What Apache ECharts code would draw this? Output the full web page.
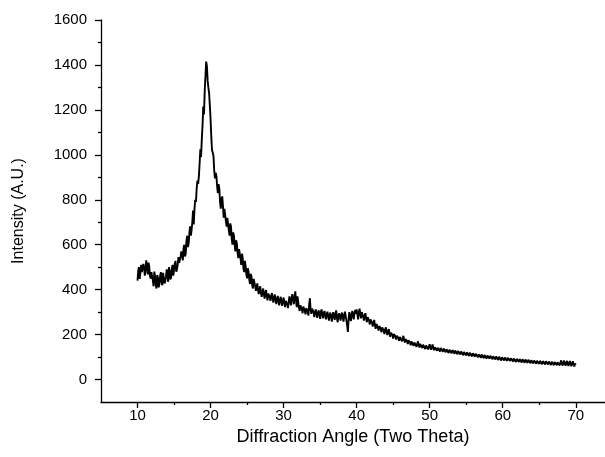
<!DOCTYPE html>
<html>
<head>
<meta charset="utf-8">
<script src="https://cdn.jsdelivr.net/npm/echarts@6/dist/echarts.min.js"></script>
<style>html,body{margin:0;padding:0;background:#fff}#c{width:605px;height:457px}</style>
</head>
<body>
<div id="c"></div>
<script>
// Diffraction angle grid: 10.0 to 70.0 step 0.2 (even samples), plus 10.1 .. 69.9 (odd samples)
const angleStart = 10;
const angleStep = 0.2;
// Intensity at 10.0, 10.2, ... 70.0
const intensity = [
  440, 500, 455, 478, 515, 462, 530, 468, 505, 450,
  472, 415, 460, 405, 452, 425, 478, 420, 470, 438,
  490, 435, 485, 455, 510, 470, 528, 490, 545, 515,
  570, 530, 600, 560, 640, 605, 682, 665, 752, 760,
  790, 885, 905, 1025, 1070, 1215, 1285, 1415, 1330, 1275,
  1160, 1020, 995, 895, 905, 830, 850, 760, 815, 720,
  755, 680, 715, 640, 680, 600, 640, 570, 605, 540,
  575, 510, 540, 478, 505, 450, 480, 425, 458, 405,
  440, 395, 428, 380, 415, 368, 405, 360, 398, 352,
  390, 350, 385, 342, 378, 336, 372, 330, 368, 328,
  365, 322, 358, 318, 370, 330, 380, 335, 392, 322,
  345, 305, 335, 295, 328, 290, 325, 285, 362, 292,
  318, 278, 312, 275, 308, 270, 312, 272, 305, 268,
  302, 262, 298, 258, 300, 265, 308, 255, 295, 262,
  298, 258, 302, 262, 212, 300, 260, 305, 268, 310,
  312, 268, 315, 272, 305, 262, 295, 255, 282, 245,
  272, 236, 265, 226, 255, 218, 246, 210, 238, 202,
  232, 198, 224, 190, 216, 182, 208, 178, 203, 172,
  198, 170, 194, 165, 188, 158, 182, 152, 178, 150,
  172, 146, 170, 142, 165, 140, 163, 136, 160, 134,
  157, 132, 156, 130, 152, 128, 150, 125, 148, 124,
  145, 121, 143, 118, 141, 117, 138, 115, 136, 112,
  135, 111, 133, 108, 131, 107, 128, 105, 126, 103,
  124, 102, 123, 99, 121, 97, 118, 95, 117, 93,
  115, 93, 113, 90, 112, 89, 110, 87, 108, 85,
  107, 85, 105, 83, 104, 82, 102, 80, 101, 78,
  100, 78, 99, 76, 97, 75, 96, 74, 95, 72,
  94, 72, 93, 70, 92, 69, 91, 68, 90, 67,
  89, 67, 88, 65, 87, 64, 86, 64, 85, 63,
  85, 62, 84, 61, 83, 60, 82, 59, 81, 58,
  66
];
// Intensity at 10.1, 10.3, ... 69.9
const intensityOdd = [
  485, 448, 510, 470, 498, 455, 492, 520, 462, 478,
  440, 480, 422, 465, 410, 462, 432, 475, 428, 460,
  462, 500, 445, 492, 462, 515, 480, 510, 520, 548,
  555, 585, 548, 618, 590, 652, 640, 700, 690, 800,
  850, 870, 960, 990, 1130, 1180, 1350, 1395, 1300, 1220,
  1080, 1010, 930, 920, 860, 870, 790, 800, 770, 760,
  705, 720, 665, 695, 625, 655, 598, 620, 565, 580,
  540, 560, 495, 528, 468, 495, 445, 470, 420, 448,
  418, 410, 398, 402, 385, 392, 378, 388, 370, 382,
  368, 372, 360, 365, 352, 360, 348, 355, 345, 350,
  342, 350, 335, 348, 352, 362, 355, 368, 350, 370,
  320, 330, 312, 325, 305, 318, 300, 335, 310, 315,
  300, 298, 292, 295, 290, 300, 288, 296, 285, 290,
  282, 285, 278, 286, 280, 292, 275, 285, 278, 288,
  280, 285, 282, 240, 270, 285, 282, 290, 295, 292,
  290, 298, 292, 300, 280, 285, 272, 278, 262, 268,
  252, 255, 242, 248, 232, 238, 225, 232, 218, 222,
  212, 215, 205, 208, 198, 202, 192, 195, 185, 190,
  182, 185, 176, 180, 170, 175, 165, 170, 162, 165,
  158, 160, 155, 158, 152, 155, 148, 152, 146, 148,
  144, 146, 141, 144, 139, 142, 137, 140, 135, 138,
  132, 135, 130, 133, 128, 131, 126, 129, 124, 127,
  122, 125, 120, 123, 118, 121, 116, 119, 114, 117,
  112, 115, 110, 113, 108, 111, 106, 109, 104, 107,
  103, 106, 101, 104, 99, 103, 98, 101, 96, 99,
  95, 98, 94, 97, 92, 95, 91, 94, 89, 92,
  88, 91, 87, 90, 86, 89, 85, 88, 83, 86,
  82, 85, 81, 84, 80, 83, 79, 82, 78, 81,
  77, 80, 76, 79, 75, 78, 74, 77, 73, 76,
  72, 75, 71, 74, 70, 73, 69, 72, 68, 71
];
const xMajorTicks = [10, 20, 30, 40, 50, 60, 70];
const xMinorTicks = [15, 25, 35, 45, 55, 65];
const yMajorTicks = [0, 200, 400, 600, 800, 1000, 1200, 1400, 1600];
const yMinorTicks = [100, 300, 500, 700, 900, 1100, 1300, 1500];

const seriesData = [];
intensity.forEach((v, i) => {
  seriesData.push([+(angleStart + i * angleStep).toFixed(1), v]);
  if (i < intensityOdd.length) {
    seriesData.push([+(angleStart + angleStep / 2 + i * angleStep).toFixed(1), intensityOdd[i]]);
  }
});

const font = 'Liberation Sans, Arial, sans-serif';
const chart = echarts.init(document.getElementById('c'), null, {renderer: 'canvas'});
const xCommon = {type: 'value', min: 5, max: 74, splitLine: {show: false}};
const yCommon = {type: 'value', min: -100, max: 1600, splitLine: {show: false}};
const plain = v => String(v);
chart.setOption({
  animation: false,
  backgroundColor: '#fff',
  grid: {left: 101, right: 0, top: 20, bottom: 55},
  xAxis: [
    Object.assign({}, xCommon, {
      name: 'Diffraction Angle (Two Theta)',
      nameLocation: 'middle', nameGap: 25,
      nameTextStyle: {fontFamily: font, fontSize: 18, color: '#000'},
      axisLine: {show: true, onZero: false, lineStyle: {color: '#000', width: 1.3}},
      axisTick: {show: true, length: 6, customValues: xMajorTicks, lineStyle: {color: '#000', width: 1.3}},
      axisLabel: {customValues: xMajorTicks, formatter: plain, fontFamily: font, fontSize: 15, color: '#000', margin: 6}
    }),
    Object.assign({}, xCommon, {
      position: 'bottom',
      axisLine: {show: false, onZero: false},
      axisTick: {show: true, length: 3, customValues: xMinorTicks, lineStyle: {color: '#000', width: 1.3}},
      axisLabel: {show: false}
    })
  ],
  yAxis: [
    Object.assign({}, yCommon, {
      name: 'Intensity (A.U.)',
      nameLocation: 'middle', nameGap: 74,
      nameTextStyle: {fontFamily: font, fontSize: 16, color: '#000'},
      axisLine: {show: true, onZero: false, lineStyle: {color: '#000', width: 1.3}},
      axisTick: {show: true, length: 6, customValues: yMajorTicks, lineStyle: {color: '#000', width: 1.3}},
      axisLabel: {customValues: yMajorTicks, formatter: plain, fontFamily: font, fontSize: 15, color: '#000', margin: 14}
    }),
    Object.assign({}, yCommon, {
      position: 'left',
      axisLine: {show: false, onZero: false},
      axisTick: {show: true, length: 3, customValues: yMinorTicks, lineStyle: {color: '#000', width: 1.3}},
      axisLabel: {show: false}
    })
  ],
  series: [{
    type: 'line',
    data: seriesData,
    showSymbol: false,
    symbol: 'none',
    sampling: null,
    lineStyle: {color: '#000', width: 1.9},
    xAxisIndex: 0,
    yAxisIndex: 0
  }]
});
</script>
</body>
</html>
